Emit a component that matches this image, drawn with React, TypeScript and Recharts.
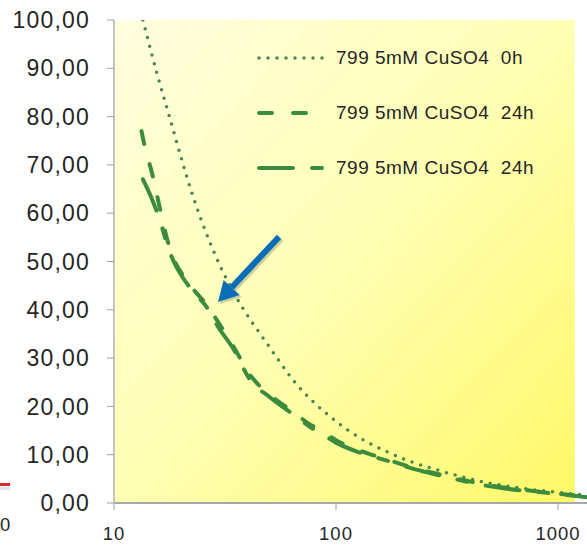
import { LineChart, Line, XAxis, YAxis, Legend, ReferenceArea, ReferenceLine } from "recharts";

// series readings (x on log axis, y in %)
const dots0hX = [13.5, 15.6, 17.9, 20.2, 22.5, 25, 29.1, 36.2, 48.9, 66.7, 96.9, 130, 162.8, 210, 273.5, 350, 459, 650, 949, 1350];
const dots0hY = [100, 89, 79.5, 71, 64, 58, 50.5, 42, 33, 24.5, 17.4, 13.3, 11, 8.8, 7.1, 5.7, 4.4, 3.2, 2.3, 1.6];

const dash24aX = [13.3, 13.8, 14.8, 16.1, 17.5, 18.8, 20.2, 23, 26.2, 29.4, 34.4, 41, 50, 63.4, 75, 87, 100, 125, 147, 175, 230, 294, 380, 459, 600, 890, 1350];
const dash24aY = [77, 73.5, 68.5, 61, 54, 50, 47.5, 44, 41, 37.5, 32.5, 26.5, 22.5, 19, 16.5, 14.8, 13, 11, 9.9, 8.8, 7.1, 5.9, 4.7, 3.9, 3.1, 2.2, 1.3];

const dash24bX = [13.5, 14.8, 16.1, 17.5, 18.8, 20.2, 23, 26.2, 29.4, 34.4, 41, 50, 63.4, 75, 87, 100, 125, 147, 175, 230, 294, 380, 459, 600, 890, 1350];
const dash24bY = [67, 63, 58.5, 53, 49.5, 47, 43.5, 40.5, 36.5, 32, 25.5, 22, 18.5, 16, 14.2, 12.5, 10.6, 9.6, 8.6, 6.9, 5.7, 4.5, 3.7, 2.9, 2.1, 1.2];

const seriesNames = ["799 5mM CuSO4  0h", "799 5mM CuSO4  24h", "799 5mM CuSO4  24h"];
const yTicks = [0, 10, 20, 30, 40, 50, 60, 70, 80, 90, 100];
const xTicks = [10, 100, 1000];

const toRows = (xs: number[], ys: number[]) => xs.map((x, i) => ({ x, y: ys[i] }));

const STYLES = [
  { stroke: "#4d8455", width: 3.5, dash: "0 9" },
  { stroke: "#3b8c3d", width: 4, dash: "13 21" },
  { stroke: "#3b8c3d", width: 4, dash: "34 19 10 19" },
];

const FONT = "'Liberation Sans', Arial, sans-serif";

const Arrow = (props: any) => {
  const { x1, y1, x2, y2 } = props;
  const ang = Math.atan2(y2 - y1, x2 - x1);
  const len = 20;
  const half = 11;
  const bx = x2 - len * Math.cos(ang);
  const by = y2 - len * Math.sin(ang);
  const px = -Math.sin(ang) * half;
  const py = Math.cos(ang) * half;
  const head = `${x2},${y2} ${bx + px},${by + py} ${bx - px},${by - py}`;
  return (
    <g>
      <g transform="translate(2,2)" opacity={0.18}>
        <line x1={x1} y1={y1} x2={bx} y2={by} stroke="#000" strokeWidth={6} />
        <polygon points={head} fill="#000" />
      </g>
      <line x1={x1} y1={y1} x2={bx} y2={by} stroke="#0b6db7" strokeWidth={6} />
      <polygon points={head} fill="#0b6db7" />
    </g>
  );
};

const LegendBox = () => (
  <div style={{ fontFamily: FONT, fontSize: 19, color: "#262626" }}>
    {seriesNames.map((name, i) => (
      <div key={i} style={{ display: "flex", alignItems: "center", height: 55 }}>
        <svg width={72} height={12} style={{ marginRight: 8 }}>
          <line
            x1={3}
            y1={6}
            x2={69}
            y2={6}
            stroke={STYLES[i].stroke}
            strokeWidth={STYLES[i].width}
            strokeDasharray={STYLES[i].dash}
            strokeLinecap="round"
          />
        </svg>
        <span style={{ whiteSpace: "pre", letterSpacing: 0.5 }}>{name}</span>
      </div>
    ))}
  </div>
);

export default function App() {
  return (
    <div style={{ position: "absolute", left: 0, top: 0, width: 587, height: 546, overflow: "hidden", background: "#fff" }}>
      {/* bits of the neighbouring chart at the left edge */}
      <div style={{ position: "absolute", left: 0, top: 483, width: 10, height: 3, background: "#d22c2c" }} />
      <div style={{ position: "absolute", left: 0, top: 487, width: 10, height: 3, background: "#e4e4e4" }} />
      <div style={{ position: "absolute", left: 0, top: 514, fontFamily: FONT, fontSize: 18.5, color: "#262626" }}>0</div>

      <LineChart width={587} height={546} margin={{ top: 20, right: 0, bottom: 0, left: 0 }}>
        <defs>
          <linearGradient id="bg" x1="0" y1="0" x2="1" y2="1">
            <stop offset="0%" stopColor="#fffee0" />
            <stop offset="50%" stopColor="#ffffb4" />
            <stop offset="100%" stopColor="#fff866" />
          </linearGradient>
        </defs>
        <ReferenceArea x1={10} x2={1190} y1={0} y2={100} fill="url(#bg)" fillOpacity={1} stroke="none" ifOverflow="hidden" />
        <XAxis
          dataKey="x"
          type="number"
          scale="log"
          domain={[10, 1350]}
          allowDataOverflow
          ticks={xTicks}
          height={43}
          tickSize={7}
          tickMargin={17}
          axisLine={{ stroke: "#a8a8a8", strokeWidth: 2 }}
          tickLine={{ stroke: "#a0a0a0" }}
          tick={{ fill: "#262626", fontSize: 18.5, fontFamily: FONT, letterSpacing: 1 }}
        />
        <YAxis
          dataKey="y"
          type="number"
          domain={[0, 100]}
          allowDataOverflow
          ticks={yTicks}
          width={114}
          tickSize={7}
          tickMargin={17}
          tickFormatter={(v: number) => v.toFixed(2).replace(".", ",")}
          axisLine={{ stroke: "#c4c4c4", strokeWidth: 2 }}
          tickLine={{ stroke: "#a0a0a0" }}
          tick={{ fill: "#262626", fontSize: 23, fontFamily: FONT, letterSpacing: 1.2 }}
        />
        <Legend layout="horizontal" verticalAlign="middle" content={<LegendBox />} wrapperStyle={{ left: 256, top: 30, width: 331 }} />
        {[toRows(dots0hX, dots0hY), toRows(dash24aX, dash24aY), toRows(dash24bX, dash24bY)].map((rows, i) => (
          <Line
            key={i}
            data={rows}
            dataKey="y"
            name={seriesNames[i]}
            type="monotone"
            stroke={STYLES[i].stroke}
            strokeWidth={STYLES[i].width}
            strokeDasharray={STYLES[i].dash}
            strokeLinecap="round"
            dot={false}
            activeDot={false}
            isAnimationActive={false}
          />
        ))}
        <ReferenceLine segment={[{ x: 55.4, y: 55.1 }, { x: 29.4, y: 41.6 }]} shape={<Arrow />} ifOverflow="visible" />
      </LineChart>
    </div>
  );
}
